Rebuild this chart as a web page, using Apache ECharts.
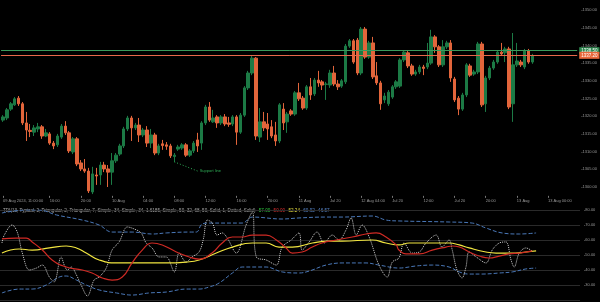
<!DOCTYPE html>
<html><head><meta charset="utf-8">
<script src="https://cdn.jsdelivr.net/npm/echarts@6/dist/echarts.min.js"></script>
<style>html,body{margin:0;padding:0;background:#000;}#c{width:600px;height:302px;}</style>
</head><body><div id="c"></div>
<script>
// [open, close, low, high]
const ohlc = [
[1318.9,1319.8,1318.4,1320.3],[1319.5,1321.8,1318.9,1322.3],[1322.0,1323.5,1321.5,1324.0],[1323.2,1324.9,1322.9,1325.4],
[1325.1,1323.5,1322.9,1325.7],[1323.5,1318.1,1317.5,1324.0],[1318.1,1316.1,1313.0,1321.2],[1316.0,1315.7,1314.1,1317.8],
[1315.5,1316.7,1314.4,1317.5],[1316.4,1317.0,1315.5,1318.1],[1317.0,1314.4,1313.6,1317.5],[1314.4,1315.3,1314.1,1316.4],
[1315.0,1312.4,1311.9,1315.5],[1312.4,1311.6,1310.7,1313.0],[1311.9,1314.4,1311.3,1315.0],[1314.1,1317.2,1313.6,1317.8],
[1317.2,1315.3,1314.7,1318.6],[1315.3,1310.2,1309.6,1315.8],[1309.9,1313.6,1309.3,1314.1],[1313.6,1306.5,1305.9,1314.1],
[1306.8,1305.1,1304.5,1307.6],[1305.1,1304.5,1304.0,1307.9],[1304.5,1298.9,1298.3,1305.4],[1298.6,1303.7,1298.0,1305.7],
[1303.4,1303.1,1300.6,1305.4],[1303.4,1306.2,1300.6,1307.1],[1306.2,1305.1,1304.2,1307.1],[1305.1,1304.2,1300.0,1306.2],
[1304.2,1307.4,1300.6,1309.6],[1307.4,1309.0,1306.8,1309.6],[1309.3,1311.6,1308.8,1312.2],[1311.6,1316.4,1311.0,1317.0],
[1316.4,1319.5,1315.8,1320.1],[1319.5,1316.7,1313.0,1320.1],[1316.7,1317.5,1316.1,1318.1],[1317.5,1314.7,1312.7,1319.5],
[1314.7,1316.1,1314.1,1316.7],[1316.1,1312.4,1311.3,1317.2],[1312.4,1314.7,1311.0,1316.4],[1314.7,1309.6,1309.0,1315.3],
[1309.6,1311.6,1309.0,1312.2],[1312.2,1311.7,1310.5,1313.3],[1311.9,1311.5,1310.5,1312.7],[1311.6,1308.8,1308.2,1312.2],
[1308.6,1309.0,1307.1,1309.6],[1310.7,1311.3,1310.2,1311.9],[1311.0,1311.9,1310.5,1312.4],[1311.9,1309.0,1308.5,1312.4],
[1309.0,1310.2,1308.5,1310.7],[1310.2,1312.4,1309.6,1313.0],[1313.3,1311.6,1309.9,1315.3],[1312.4,1318.1,1310.5,1318.6],
[1318.1,1322.6,1317.5,1323.2],[1322.6,1318.9,1318.4,1324.0],[1318.4,1319.5,1318.1,1321.8],[1319.8,1318.1,1316.7,1320.3],
[1318.1,1319.8,1317.5,1320.3],[1319.8,1317.8,1317.2,1320.6],[1318.1,1317.7,1317.0,1319.8],[1317.8,1319.8,1317.2,1320.3],
[1319.8,1315.5,1311.9,1320.3],[1315.5,1320.3,1315.0,1320.9],[1320.3,1328.0,1319.8,1328.5],[1328.0,1332.2,1327.4,1332.8],
[1332.2,1336.4,1331.6,1337.0],[1336.4,1314.4,1313.3,1336.7],[1314.1,1318.4,1312.7,1322.3],[1318.4,1316.7,1315.8,1321.2],
[1317.8,1316.4,1313.3,1320.9],[1317.0,1314.4,1313.8,1318.9],[1314.7,1313.0,1311.6,1318.4],[1313.0,1323.2,1312.4,1323.7],
[1322.0,1318.1,1316.1,1323.7],[1318.4,1320.6,1315.3,1321.2],[1321.5,1320.6,1320.1,1322.0],[1320.6,1326.6,1320.1,1327.1],
[1326.6,1324.9,1324.3,1329.4],[1325.1,1322.3,1321.8,1325.7],[1322.3,1328.3,1321.8,1328.8],[1328.3,1326.0,1324.6,1330.8],
[1326.3,1330.2,1325.7,1330.8],[1330.2,1329.4,1328.3,1332.8],[1329.7,1328.8,1327.4,1330.2],[1329.0,1329.1,1324.6,1329.7],
[1328.8,1332.2,1328.0,1333.1],[1332.2,1329.1,1328.5,1334.2],[1329.1,1328.3,1327.4,1330.2],[1328.5,1330.0,1328.0,1330.5],
[1329.7,1339.8,1329.1,1340.4],[1339.8,1341.3,1339.3,1341.8],[1341.3,1335.3,1334.8,1341.8],[1341.5,1332.2,1331.6,1342.1],
[1332.2,1344.6,1331.6,1345.2],[1344.6,1336.7,1336.2,1345.2],[1336.7,1340.7,1336.2,1341.3],[1340.7,1331.1,1330.5,1342.4],
[1331.4,1329.4,1328.8,1335.3],[1329.4,1323.5,1321.8,1330.0],[1324.6,1325.7,1323.7,1326.6],[1323.5,1326.8,1322.9,1327.4],
[1325.4,1328.3,1324.9,1328.8],[1328.3,1329.7,1327.7,1330.2],[1328.5,1335.9,1328.0,1336.4],[1335.9,1338.1,1335.3,1338.7],
[1337.9,1334.2,1333.6,1338.4],[1334.2,1331.9,1331.4,1334.8],[1331.9,1332.5,1331.4,1333.1],[1332.5,1333.9,1331.9,1334.5],
[1333.9,1333.5,1331.6,1334.5],[1333.9,1335.0,1333.3,1340.7],[1335.0,1342.4,1334.5,1344.4],[1342.4,1339.6,1337.9,1342.9],
[1339.6,1334.5,1333.9,1340.1],[1334.5,1339.6,1333.9,1341.5],[1339.6,1340.7,1339.0,1341.3],[1340.7,1330.8,1329.7,1341.5],
[1330.5,1324.6,1324.0,1331.1],[1325.1,1322.0,1320.3,1325.7],[1322.0,1326.0,1321.5,1326.6],[1326.0,1334.5,1325.4,1335.0],
[1334.2,1331.6,1331.1,1334.8],[1331.9,1332.5,1331.4,1333.1],[1332.5,1340.4,1331.9,1341.0],[1340.4,1323.2,1322.6,1341.0],
[1323.5,1330.8,1321.2,1331.4],[1330.8,1333.6,1330.2,1334.2],[1333.6,1335.3,1333.1,1335.9],[1335.3,1338.1,1334.8,1338.7],
[1338.1,1337.6,1337.0,1340.7],[1337.9,1339.0,1335.3,1339.6],[1339.0,1322.6,1322.0,1339.6],[1323.5,1334.5,1318.4,1343.5],
[1334.5,1335.6,1333.9,1340.7],[1335.3,1334.5,1333.9,1335.9],[1333.9,1338.4,1333.3,1339.0],[1338.4,1335.3,1334.8,1339.0],
[1335.3,1337.0,1334.8,1337.6]
];
const futureSlots = 11;
const xTickLabels = ['09 Aug 2024, 11:00:00','16:00','20:00','10 Aug','04:00','08:00','12:00','16:00','20:00',
  '11 Aug','Jul 20','12 Aug 04:00','Jul 20','12:00','Jul 20','20:00','13 Aug','13 Aug 00:00'];
const priceLines = [1338.5, 1337.2];
const trendLine = [[44,1307.1],[50,1304.5]];

// indicator panel: [candle index, value]
const upperBand = [[0,78.0],[6.2,80],[9.5,80],[13.9,76.7],[20.5,73.3],[24.8,70],[28.1,65.3],[33.2,65.3],[38.4,64],[41.9,64.7],
 [47.8,65.3],[49.6,65.3],[51.1,70.7],[52.9,71.3],[61.3,71.3],[63.9,75.3],[71.5,74],[75.8,74.7],[82.7,75.3],[86.8,75.3],
 [94.5,76],[98,73.3],[101.3,72.7],[114.1,72],[120,71.3],[123.5,68],[127.6,64.7],[132,64],[136.3,64.7]];
const lowerBand = [[0,24.7],[4.4,27.3],[7.7,27.3],[11.3,30],[14.6,35.3],[16.4,36],[19,33.3],[21.5,30],[24.8,26.7],[29.2,24.7],
 [33.2,23.3],[37.6,24.7],[41.9,25.3],[47,27.3],[50.3,27.3],[52.9,28.7],[55.4,31.3],[58.8,38],[61.3,42],[67.4,42],[71.5,38.7],
 [75.8,38],[78.4,39.3],[82.7,43.3],[86.8,44.7],[92.9,44.7],[96.2,43.3],[101.3,41.3],[105.7,42.7],[109.8,43.3],[114.1,42],
 [116.7,38.7],[119.2,37.3],[122.5,37.3],[126.9,38],[130.2,38.7],[133.7,40.7],[136.3,41.3]];
const signalLine = [[0,60.7],[3.6,61.3],[6.2,61.3],[7.7,58.7],[10.3,53.3],[12.8,46.7],[16.4,42],[20.5,40],[23,38],[25.6,34.7],
 [28.1,33.3],[30.7,35.3],[33.2,44.7],[35.8,53.3],[38.3,58],[40.9,56.7],[44.5,52],[47.8,48.7],[50.3,47.3],[53.6,51.3],[56.2,58],
 [58.8,62],[61.3,62],[63.9,63.3],[67.4,63.3],[70,60],[72.5,54.7],[74.1,51.3],[76.6,52],[79.2,55.3],[81.7,58],[85.3,60],[89.4,62],
 [92.9,64],[95.5,64.7],[98,62],[100.6,56.7],[101.3,53.3],[103.1,50.7],[106.5,50.7],[109.8,53.3],[113.3,55.3],[114.9,56],[116.7,55.3],
 [119.2,52],[121.8,49.3],[124.3,48],[126.9,49.3],[129.4,50.7],[132,51.3],[135.3,52.7]];
const baseLine = [[0,51.3],[4.4,54],[7.7,53.3],[12.1,54.7],[16.4,56],[19,54.7],[21.5,51.3],[24.8,46.7],[29.2,44.7],[33.2,44.7],
 [41.9,44.7],[47,45.3],[50.3,46.7],[54.7,51.3],[58.8,55.3],[63.9,58],[67.4,58],[70.7,55.3],[74.1,55.3],[79.2,58],[83.5,59.3],
 [86.8,59.3],[94.5,60],[98,58],[101.3,56.7],[103.9,58],[114.1,58],[116.7,56.7],[119.2,54.7],[123.5,52],[126.1,51.3],[131,51.3],
 [133.7,52],[136.3,52.7]];
const rsiLine = [[0,58],[0.6,63.3],[2.6,70],[3.9,65.3],[5.2,51.3],[7,40],[8.8,41.3],[10.3,43.3],[12.1,35.3],[13.3,32],[15.1,48.7],
 [15.9,43.3],[16.7,40],[17.7,42],[19,36.7],[20.2,30],[21.8,22.7],[23.5,33.3],[24.8,35.3],[26.6,41.3],[28.1,53.3],[29.9,58.7],
 [32,68.7],[33.8,67.3],[35.5,64.7],[36.8,58],[38.3,54.7],[40.1,48.7],[41.9,48.7],[44,38.7],[45.2,51.3],[47,45.3],[48.5,48.7],
 [50.3,52],[51.4,60.7],[52.4,73.3],[53.7,71.3],[54.9,63.3],[56.2,64.7],[57.5,61.3],[59.8,51.3],[62.3,70],[63.9,78.7],[64.9,48.7],
 [67.4,46.7],[70,43.3],[71.5,55.3],[73.8,60],[75.8,64.7],[76.6,53.3],[78.4,58.7],[80.4,65.3],[82.2,58],[84.3,63.3],[86,60],
 [87.8,66.7],[89.1,74.7],[90.4,63.3],[91.9,70],[93.7,62],[96.2,43.3],[98.3,35.3],[99.6,45.3],[101.3,48],[102.6,58],[104.7,51.3],
 [106.5,52],[108.2,58],[110.8,63.3],[112.3,55.3],[114.1,60],[114.9,53.3],[116.1,40],[117.4,34.7],[118.4,42],[119.2,52],[121,48.7],
 [123.5,44.7],[125.1,53.3],[126.9,58],[128.6,58.7],[129.9,46.7],[130.7,42],[132,51.3],[133.7,54.7],[135.3,52.7]];

const N = ohlc.length + futureSlots;
const categories = Array.from({length: N}, (_, i) => String(i));
const showTick = i => i === 0 || (i % 8 === 4 && i > 4);
const tickText = i => i === 0 ? xTickLabels[0] : xTickLabels[(i - 4) / 8];

const GREEN = '#1c7a45', ORANGE = '#e2653b';
const FONT = 'Liberation Sans';
const chart = echarts.init(document.getElementById('c'), null, {renderer: 'canvas'});
chart.setOption({
  backgroundColor: '#000',
  animation: false,
  textStyle: {fontFamily: FONT},
  grid: [
    {left: 0, top: 1.15, width: 580, height: 194.7},
    {left: 0, top: 210, width: 580, height: 90}
  ],
  xAxis: [
    {type: 'category', gridIndex: 0, data: categories, boundaryGap: true,
     axisLine: {show: false},
     axisTick: {show: true, interval: (i) => showTick(i), alignWithLabel: true, length: 2, lineStyle: {color: '#777'}},
     axisLabel: {interval: (i) => showTick(i), formatter: (v, i) => tickText(i), color: '#999', fontSize: 4,
       align: 'left', margin: 3.5, fontFamily: FONT, showMinLabel: true, hideOverlap: false},
     splitLine: {show: false}},
    {type: 'value', gridIndex: 1, min: -0.5, max: N - 0.5, show: false}
  ],
  yAxis: [
    {type: 'value', gridIndex: 0, position: 'right', min: 1297.5, max: 1352.5, interval: 2.5, scale: true,
     axisLine: {show: false}, axisTick: {show: false}, splitLine: {show: false},
     axisLabel: {color: '#999', fontSize: 4, margin: 4, fontFamily: FONT,
       formatter: v => (Math.round(v * 10) % 50 === 0 && v > 1297.5 && v < 1352.5) ? '-' + v.toFixed(2) : ''}},
    {type: 'value', gridIndex: 1, position: 'right', min: 20, max: 80, interval: 10,
     axisLine: {show: false}, axisTick: {show: false},
     splitLine: {show: true, lineStyle: {color: '#2a2a2a', width: 1}},
     axisLabel: {color: '#999', fontSize: 4, margin: 4, fontFamily: FONT, showMinLabel: false,
       formatter: v => '-' + v.toFixed(2)}}
  ],
  series: [
    {type: 'candlestick', xAxisIndex: 0, yAxisIndex: 0, data: ohlc, barWidth: 3,
     itemStyle: {color: GREEN, color0: ORANGE, borderColor: GREEN, borderColor0: ORANGE, borderWidth: 1},
     markLine: {symbol: 'none', silent: true,
       data: [
         {yAxis: priceLines[0], lineStyle: {color: '#3a9a5c', width: 1, type: 'solid'},
          label: {show: true, position: 'end', formatter: priceLines[0].toFixed(2), color: '#fff', backgroundColor: '#2e8a50', fontSize: 4.5, padding: [1, 2], distance: 2}},
         {yAxis: priceLines[1], lineStyle: {color: '#e8674a', width: 1, type: 'solid'},
          label: {show: true, position: 'end', formatter: priceLines[1].toFixed(2), color: '#fff', backgroundColor: '#e8673a', fontSize: 4.5, padding: [1, 2], distance: 2}}
       ]}},
    {type: 'line', xAxisIndex: 0, yAxisIndex: 0, data: trendLine, symbol: 'none',
     lineStyle: {color: '#2eaa55', width: 1, type: [1, 2]},
     endLabel: {show: true, formatter: 'Support line', color: '#2eaa55', fontSize: 4, distance: 2}},
    {type: 'line', xAxisIndex: 1, yAxisIndex: 1, data: upperBand, symbol: 'none', smooth: 0.4,
     lineStyle: {color: '#4a78b8', width: 1, type: [4, 2]}},
    {type: 'line', xAxisIndex: 1, yAxisIndex: 1, data: lowerBand, symbol: 'none', smooth: 0.4,
     lineStyle: {color: '#4a78b8', width: 1, type: [4, 2]}},
    {type: 'line', xAxisIndex: 1, yAxisIndex: 1, data: rsiLine, symbol: 'none', smooth: 0.35,
     lineStyle: {color: '#cfcfcf', width: 1, type: [1, 1]}},
    {type: 'line', xAxisIndex: 1, yAxisIndex: 1, data: baseLine, symbol: 'none', smooth: 0.5,
     lineStyle: {color: '#f2e640', width: 1.2}},
    {type: 'line', xAxisIndex: 1, yAxisIndex: 1, data: signalLine, symbol: 'none', smooth: 0.5,
     lineStyle: {color: '#d02a24', width: 1.2}}
  ],
  graphic: [
    {type: 'text', left: 3, top: 204.5, silent: true,
     style: {text: '{g|TDI(13, Typical, 2, Triangular, 2, Triangular, 7, Simple, 34, Simple, 34, 1.6185, Simple, 50, 32, 68, 50, Solid, 1, Dotted, Solid)} {gr|57.00} {r|50.00} {y|52.24} {b|60.92} {b|46.57}',
       rich: {g: {fill: '#aaa', fontSize: 4.6, fontFamily: FONT}, gr: {fill: '#2ecc40', fontSize: 4.6, fontFamily: FONT},
              r: {fill: '#e03030', fontSize: 4.6, fontFamily: FONT}, y: {fill: '#e8e040', fontSize: 4.6, fontFamily: FONT},
              b: {fill: '#5a8ad0', fontSize: 4.6, fontFamily: FONT}}}}
  ]
});
</script></body></html>
